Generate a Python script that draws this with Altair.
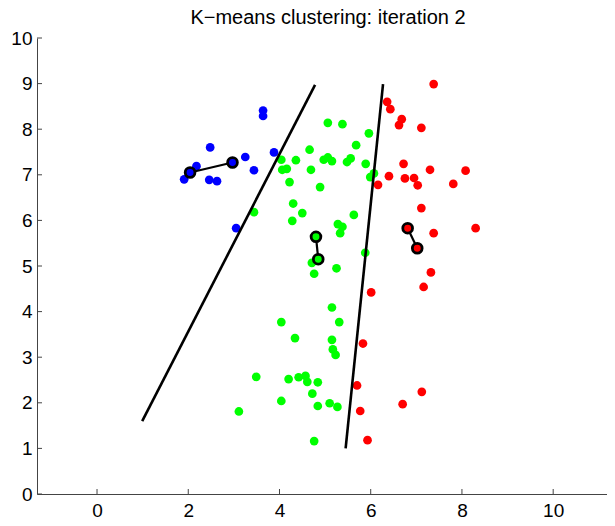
import altair as alt
import pandas as pd

# ---- data ----
blue_x = [3.64, 3.64, 2.48, 2.18, 1.91, 2.46, 2.63, 3.25, 3.44, 3.88, 3.05]
blue_y = [8.41, 8.29, 7.60, 7.19, 6.90, 6.89, 6.86, 7.39, 7.10, 7.49, 5.83]

green_x = [5.06, 5.38, 5.96, 5.68, 4.66, 4.04, 4.36, 4.97, 5.06, 5.15, 5.48, 5.56, 5.89,
           6.07, 5.99, 4.06, 4.16, 4.69, 4.22, 4.89, 4.30, 4.50, 4.28, 3.44, 5.63, 5.28,
           5.38, 5.33, 5.88, 4.71, 4.76, 5.25, 5.15, 4.04, 5.31, 4.34, 5.15, 5.17, 5.23,
           3.49, 4.20, 4.42, 4.57, 4.61, 4.84, 4.72, 4.04, 4.84, 5.10, 5.27, 3.11, 4.76]
green_y = [8.14, 8.11, 7.91, 7.65, 7.55, 7.33, 7.32, 7.33, 7.38, 7.30, 7.28, 7.36, 7.24,
           7.03, 6.95, 7.11, 7.13, 7.11, 6.84, 6.73, 6.37, 6.16, 5.99, 6.18, 6.12, 5.92,
           5.86, 5.72, 5.29, 5.07, 4.83, 4.95, 4.09, 3.77, 3.77, 3.42, 3.38, 3.17, 3.05,
           2.57, 2.52, 2.56, 2.59, 2.46, 2.45, 2.20, 2.04, 1.93, 1.99, 1.91, 1.81, 1.16]

red_x = [7.38, 6.36, 6.43, 6.68, 6.62, 7.11, 6.72, 7.30, 8.08, 6.40, 6.75, 6.95, 7.03,
         7.81, 6.16, 7.11, 8.30, 7.38, 7.32, 7.16, 6.01, 5.83, 5.70, 7.12, 6.70, 5.77, 5.93]
red_y = [8.99, 8.60, 8.44, 8.22, 8.09, 8.03, 7.24, 7.11, 7.09, 6.97, 6.92, 6.93, 6.77,
         6.80, 6.78, 6.27, 5.83, 5.72, 4.86, 4.54, 4.42, 3.30, 2.38, 2.24, 1.97, 1.82, 1.18]

# centroids: previous and current position per cluster
cent_cluster = ["blue", "blue", "green", "green", "red", "red"]
cent_x = [2.04, 2.97, 4.80, 4.85, 6.81, 7.02]
cent_y = [7.05, 7.27, 5.64, 5.15, 5.83, 5.39]

# decision boundaries (end points)
bound_id = ["b1", "b1", "b2", "b2"]
bound_x = [0.99, 4.78, 5.45, 6.27]
bound_y = [1.60, 8.97, 1.00, 8.99]

x_ticks = [0, 2, 4, 6, 8, 10]
y_ticks = [0, 1, 2, 3, 4, 5, 6, 7, 8, 9, 10]

clusters = ["blue", "green", "red"]
cluster_colors = ["#0000FF", "#00FF00", "#FF0000"]

# ---- tables ----
pts = pd.DataFrame({
    "x": blue_x + green_x + red_x,
    "y": blue_y + green_y + red_y,
    "c": ["blue"] * len(blue_x) + ["green"] * len(green_x) + ["red"] * len(red_x),
})
cent = pd.DataFrame({"x": cent_x, "y": cent_y, "c": cent_cluster})
bnd = pd.DataFrame({"x": bound_x, "y": bound_y, "id": bound_id})
xt = pd.DataFrame({"x": x_ticks})
yt = pd.DataFrame({"y": y_ticks})

W, H = 570, 456
FONT = "Liberation Sans"

xs = alt.Scale(domain=[-1.316, 11.18], nice=False, zero=False)
ys = alt.Scale(domain=[0, 10], nice=False, zero=False)
cs = alt.Scale(domain=clusters, range=cluster_colors)

xaxis = alt.Axis(values=x_ticks, ticks=False, grid=False, title=None, labelFontSize=19,
                 labelFont=FONT, labelColor="black", labelPadding=7, domainColor="#444444",
                 domainWidth=1, labelFlush=False)
yaxis = alt.Axis(values=y_ticks, ticks=False, grid=False, title=None, labelFontSize=19,
                 labelFont=FONT, labelColor="black", labelPadding=5, domainColor="#444444",
                 domainWidth=1, labelFlush=False)

base_x = alt.X("x:Q", scale=xs, axis=xaxis)
base_y = alt.Y("y:Q", scale=ys, axis=yaxis)

points = alt.Chart(pts).mark_circle(size=76, opacity=1).encode(
    x=base_x, y=base_y, color=alt.Color("c:N", scale=cs, legend=None)
)

bounds = alt.Chart(bnd).mark_line(color="black", strokeWidth=2.6).encode(
    x=alt.X("x:Q", scale=xs), y=alt.Y("y:Q", scale=ys), detail="id:N"
)

links = alt.Chart(cent).mark_line(color="black", strokeWidth=2.2).encode(
    x=alt.X("x:Q", scale=xs), y=alt.Y("y:Q", scale=ys), detail="c:N"
)

cents = alt.Chart(cent).mark_circle(size=95, opacity=1, stroke="black", strokeWidth=2.8).encode(
    x=alt.X("x:Q", scale=xs), y=alt.Y("y:Q", scale=ys),
    fill=alt.Fill("c:N", scale=cs, legend=None)
)

xtick = alt.Chart(xt).mark_rule(color="#444444", strokeWidth=1).encode(
    x=alt.X("x:Q", scale=xs), y=alt.value(H), y2=alt.value(H - 5)
)
ytick = alt.Chart(yt).mark_rule(color="#444444", strokeWidth=1).encode(
    y=alt.Y("y:Q", scale=ys), x=alt.value(0), x2=alt.value(5)
)

chart = alt.layer(points, bounds, links, cents, xtick, ytick).properties(
    width=W, height=H,
    title=alt.TitleParams("K\u2212means clustering: iteration 2", fontSize=20, font=FONT,
                          fontWeight="normal", color="black", anchor="middle", dx=6,
                          offset=1),
    autosize=alt.AutoSizeParams(type="none"),
    padding={"left": 29, "top": 30, "right": 0, "bottom": 30},
).configure_view(stroke=None)

chart.save("out.html", embed_options={"renderer": "svg", "actions": False})
